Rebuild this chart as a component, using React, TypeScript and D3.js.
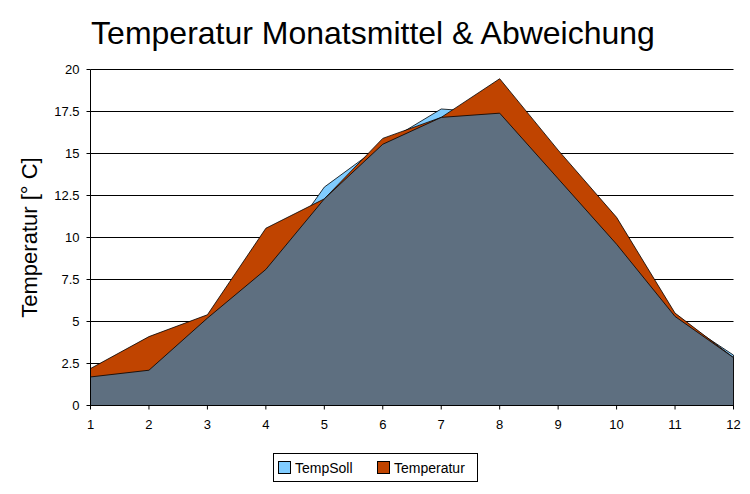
import * as React from 'react';
import * as d3 from 'd3';

const months = [1, 2, 3, 4, 5, 6, 7, 8, 9, 10, 11, 12];
const tempSoll = [1.7, 2.1, 5.2, 8.1, 13.0, 15.55, 17.65, 17.4, 13.5, 9.6, 5.3, 3.0];
const temperatur = [2.2, 4.1, 5.4, 10.55, 12.3, 15.9, 17.15, 19.45, 15.2, 11.2, 5.5, 2.85];
const yTicks = [0, 2.5, 5, 7.5, 10, 12.5, 15, 17.5, 20];
const seriesNames = ['TempSoll', 'Temperatur'];

const colBlue = '#80ccff';
const colOrange = '#c04400';
const colGrey = '#5e6f80';
const font = '"Liberation Sans", Arial, sans-serif';

export default function App() {
  const width = 750,
    height = 494,
    left = 90.5,
    right = 733.5,
    top = 69.5,
    bottom = 405.5;

  const x = d3.scaleLinear().domain([1, 12]).range([left, right]);
  const y = d3.scaleLinear().domain([0, 20]).range([bottom, top]);

  const area = d3.area<number>()
    .x((d, i) => x(months[i]))
    .y0(y(0))
    .y1(d => y(d));

  // overlapping part of both series, drawn on top
  const overlap = months.map((m, i) => Math.min(tempSoll[i], temperatur[i]));

  return (
    <svg width={width} height={height} style={{ position: 'absolute', left: 0, top: 0, background: '#fff' }}
      fontFamily={font}>
      <text x={373} y={44} fontSize={32} textAnchor="middle">Temperatur Monatsmittel &amp; Abweichung</text>
      <text transform={`translate(37,${(top + bottom) / 2}) rotate(-90)`} fontSize={22} textAnchor="middle">
        Temperatur [° C]
      </text>

      {yTicks.map(t => (
        <g key={t}>
          {t > 0 && <line x1={left} x2={right} y1={y(t)} y2={y(t)} stroke="#000" strokeWidth={1} />}
          <line x1={left - 4} x2={left} y1={y(t)} y2={y(t)} stroke="#000" />
          <text x={left - 11} y={y(t) + 4.5} fontSize={13} textAnchor="end">{t}</text>
        </g>
      ))}

      <path d={area(tempSoll) || ''} fill={colBlue} stroke="#000" strokeWidth={0.8} />
      <path d={area(temperatur) || ''} fill={colOrange} stroke="#000" strokeWidth={0.8} />
      <path d={area(overlap) || ''} fill={colGrey} stroke="#000" strokeWidth={0.8} />

      <line x1={left} x2={left} y1={top} y2={bottom} stroke="#000" />
      <line x1={left} x2={right} y1={bottom} y2={bottom} stroke="#000" />
      {months.map(m => (
        <g key={m}>
          <line x1={x(m)} x2={x(m)} y1={bottom} y2={bottom + 4} stroke="#000" />
          <text x={x(m)} y={bottom + 23} fontSize={13} textAnchor="middle">{m}</text>
        </g>
      ))}

      <rect x={273.5} y={453.5} width={204} height={28} fill="#fff" stroke="#000" />
      {seriesNames.map((n, i) => (
        <g key={n} transform={`translate(${278 + i * 99},461)`}>
          <rect x={0.5} y={0.5} width={12} height={12} fill={i === 0 ? colBlue : colOrange} stroke="#000" />
          <text x={17} y={12} fontSize={14}>{n}</text>
        </g>
      ))}
    </svg>
  );
}
